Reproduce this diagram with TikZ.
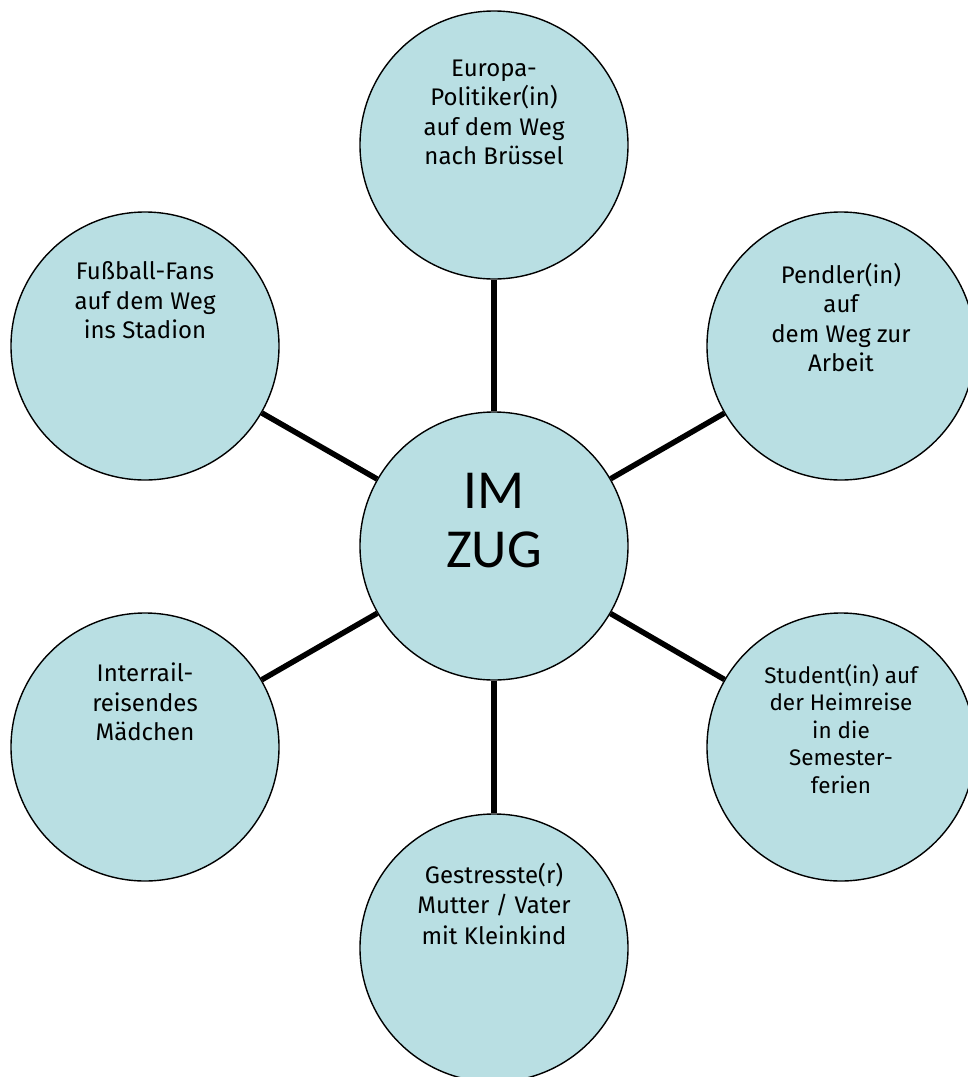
\documentclass[tikz,border=0pt]{standalone}
\usepackage{fontspec}
\setmainfont{Fira Sans}
\newfontfamily\bigfont{Carlito}
\definecolor{bub}{RGB}{185,223,227}
\begin{document}
\begin{tikzpicture}[x=1pt,y=-1pt,
  bubble/.style={circle,draw=black,line width=1.4pt,fill=bub,minimum size=268pt,inner sep=0pt},
  lbl/.style={anchor=north,align=center,inner sep=0pt,font=\fontsize{24}{29.5}\selectfont,
    execute at begin node={\rule{0pt}{0.85em}}},
  spoke/.style={line width=5.5pt}]
\useasboundingbox (0,0) rectangle (968,1077);
\node[bubble] (c)  at (494,546) {};
\node[bubble] (tp) at (494,145) {};
\node[bubble] (rt) at (841,346) {};
\node[bubble] (lt) at (145,346) {};
\node[bubble] (rb) at (841,747) {};
\node[bubble] (lb) at (145,747) {};
\node[bubble] (bt) at (494,948) {};
\foreach \o in {tp,rt,lt,rb,lb,bt} \draw[spoke] (c) -- (\o);
\node[lbl,font=\bigfont\fontsize{55}{59}\selectfont,execute at begin node={},yshift=82pt] (cT) at (c.center) {\rule{0pt}{0.8em}IM\\ZUG};
\node[lbl,yshift=85.4pt] (tpT) at (tp.center) {Europa-\\Politiker(in)\\auf dem Weg\\nach Brüssel};
\node[lbl,yshift=83.4pt] (rtT) at (rt.center) {Pendler(in)\\auf\\dem Weg zur\\Arbeit};
\node[lbl,yshift=84.4pt] (ltT) at (lt.center) {Fußball-Fans\\auf dem Weg\\ins Stadion};
\node[lbl,yshift=83.1pt,font=\fontsize{22.5}{27.5}\selectfont] (rbT) at (rb.center) {Student(in) auf\\der Heimreise\\in die\\Semester-\\ferien};
\node[lbl,yshift=84.4pt] (lbT) at (lb.center) {Interrail-\\reisendes\\Mädchen};
\node[lbl,yshift=85.4pt,font=\fontsize{24}{30.5}\selectfont] (btT) at (bt.center) {Gestresste(r)\\Mutter / Vater\\mit Kleinkind};
\end{tikzpicture}
\end{document}
